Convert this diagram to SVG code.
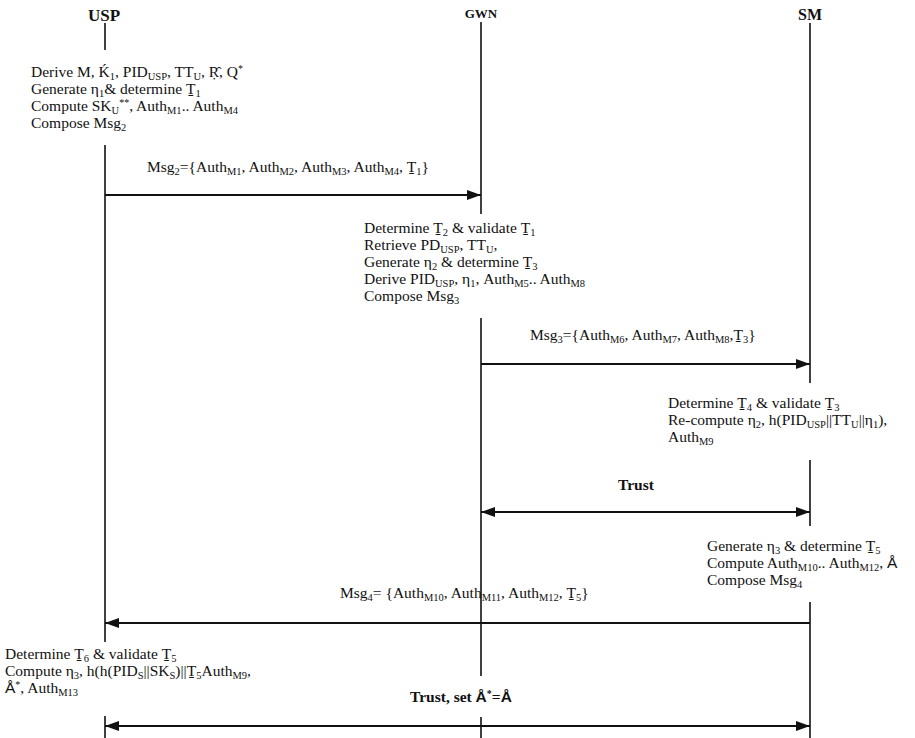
<svg xmlns="http://www.w3.org/2000/svg" width="915" height="738" viewBox="0 0 915 738">
<defs>
<style>
text{font-family:"Liberation Serif","Times New Roman",serif;font-size:15.5px;fill:#111}
.h{font-weight:bold}
.s{font-size:10.5px;baseline-shift:-2.5px}
.p{font-size:10px;baseline-shift:5px}
.a{font-family:"Liberation Sans",Arial,sans-serif}
.life{stroke:#111;stroke-width:1.6;fill:none}
.arr{stroke:#111;stroke-width:2.2;fill:none}
</style>
<marker id="ah" viewBox="0 0 14 10" refX="14" refY="5" markerWidth="14" markerHeight="10" markerUnits="userSpaceOnUse" orient="auto-start-reverse">
<path d="M0,0 L14,5 L0,10 z" fill="#111"/>
</marker>
</defs>
<rect width="915" height="738" fill="#fff"/>

<g id="lifelines">
<line class="life" x1="105" y1="23" x2="105" y2="50"/>
<line class="life" x1="105" y1="145" x2="105" y2="642"/>
<line class="life" x1="105" y1="716" x2="105" y2="738"/>
<line class="life" x1="481" y1="22" x2="481" y2="214"/>
<line class="life" x1="481" y1="318" x2="481" y2="676"/>
<line class="life" x1="481" y1="717" x2="481" y2="738"/>
<line class="life" x1="810" y1="23" x2="810" y2="383"/>
<line class="life" x1="810" y1="460" x2="810" y2="526"/>
<line class="life" x1="810" y1="602" x2="810" y2="738"/>
</g>

<g id="USP"><text class="h" x="104" y="21" text-anchor="middle" style="font-size:17px">USP</text></g>
<g id="GWN"><text class="h" x="481" y="18" text-anchor="middle" style="font-size:13px">GWN</text></g>
<g id="SM"><text class="h" x="810" y="20" text-anchor="middle" style="font-size:16px">SM</text></g>

<g id="usp-step1">
<text x="31" y="77">Derive M, Ḱ<tspan class="s">1</tspan>, PID<tspan class="s">USP</tspan>, TT<tspan class="s">U</tspan>, Ṛ̑, Q<tspan class="p">*</tspan></text>
<text x="31" y="94">Generate η<tspan class="s">1</tspan>&amp; determine Ṯ<tspan class="s">1</tspan></text>
<text x="31" y="111">Compute SK<tspan class="s">U</tspan><tspan class="p">**</tspan>, Auth<tspan class="s">M1</tspan>.. Auth<tspan class="s">M4</tspan></text>
<text x="31" y="128">Compose Msg<tspan class="s">2</tspan></text>
</g>

<g id="gwn-step">
<text x="364" y="233">Determine Ṯ<tspan class="s">2</tspan> &amp; validate Ṯ<tspan class="s">1</tspan></text>
<text x="364" y="250">Retrieve PD<tspan class="s">USP</tspan>, TT<tspan class="s">U</tspan>,</text>
<text x="364" y="267">Generate η<tspan class="s">2</tspan> &amp; determine Ṯ<tspan class="s">3</tspan></text>
<text x="364" y="284">Derive PID<tspan class="s">USP</tspan>, η<tspan class="s">1</tspan>, Auth<tspan class="s">M5</tspan>.. Auth<tspan class="s">M8</tspan></text>
<text x="364" y="301">Compose Msg<tspan class="s">3</tspan></text>
</g>

<g id="sm-step1">
<text x="668" y="408">Determine Ṯ<tspan class="s">4</tspan> &amp; validate Ṯ<tspan class="s">3</tspan></text>
<text x="668" y="425">Re-compute η<tspan class="s">2</tspan>, h(PID<tspan class="s">USP</tspan>||TT<tspan class="s">U</tspan>||η<tspan class="s">1</tspan>),</text>
<text x="668" y="442">Auth<tspan class="s">M9</tspan></text>
</g>

<g id="sm-step2">
<text x="707" y="551">Generate η<tspan class="s">3</tspan> &amp; determine Ṯ<tspan class="s">5</tspan></text>
<text x="707" y="568">Compute Auth<tspan class="s">M10</tspan>.. Auth<tspan class="s">M12</tspan>, <tspan class="a">Å</tspan></text>
<text x="707" y="585">Compose Msg<tspan class="s">4</tspan></text>
</g>

<g id="usp-step2">
<text x="5" y="659">Determine Ṯ<tspan class="s">6</tspan> &amp; validate Ṯ<tspan class="s">5</tspan></text>
<text x="5" y="676">Compute η<tspan class="s">3</tspan>, h(h(PID<tspan class="s">S</tspan>||SK<tspan class="s">S</tspan>)||Ṯ<tspan class="s">5</tspan>Auth<tspan class="s">M9</tspan>,</text>
<text x="5" y="693"><tspan class="a">Å</tspan><tspan class="p">*</tspan>, Auth<tspan class="s">M13</tspan></text>
</g>

<g id="connectors">
<line class="arr" x1="105" y1="195" x2="481" y2="195" marker-end="url(#ah)"/>
<text x="147" y="172">Msg<tspan class="s">2</tspan>={Auth<tspan class="s">M1</tspan>, Auth<tspan class="s">M2</tspan>, Auth<tspan class="s">M3</tspan>, Auth<tspan class="s">M4</tspan>, Ṯ<tspan class="s">1</tspan>}</text>

<line class="arr" x1="481" y1="364" x2="810" y2="364" marker-end="url(#ah)"/>
<text x="530" y="340">Msg<tspan class="s">3</tspan>={Auth<tspan class="s">M6</tspan>, Auth<tspan class="s">M7</tspan>, Auth<tspan class="s">M8</tspan>,Ṯ<tspan class="s">3</tspan>}</text>

<line class="arr" x1="481" y1="512" x2="810" y2="512" marker-start="url(#ah)" marker-end="url(#ah)"/>
<text class="h" x="636" y="490" text-anchor="middle">Trust</text>

<line class="arr" x1="810" y1="623" x2="105" y2="623" marker-end="url(#ah)"/>
<text x="340" y="598">Msg<tspan class="s">4</tspan>= {Auth<tspan class="s">M10</tspan>, Auth<tspan class="s">M11</tspan>, Auth<tspan class="s">M12</tspan>, Ṯ<tspan class="s">5</tspan>}</text>

<line class="arr" x1="105" y1="726" x2="810" y2="726" marker-start="url(#ah)" marker-end="url(#ah)"/>
<text class="h" x="410" y="702">Trust, set <tspan class="a">Å</tspan><tspan class="p">*</tspan>=<tspan class="a">Å</tspan></text>
</g>
</svg>
